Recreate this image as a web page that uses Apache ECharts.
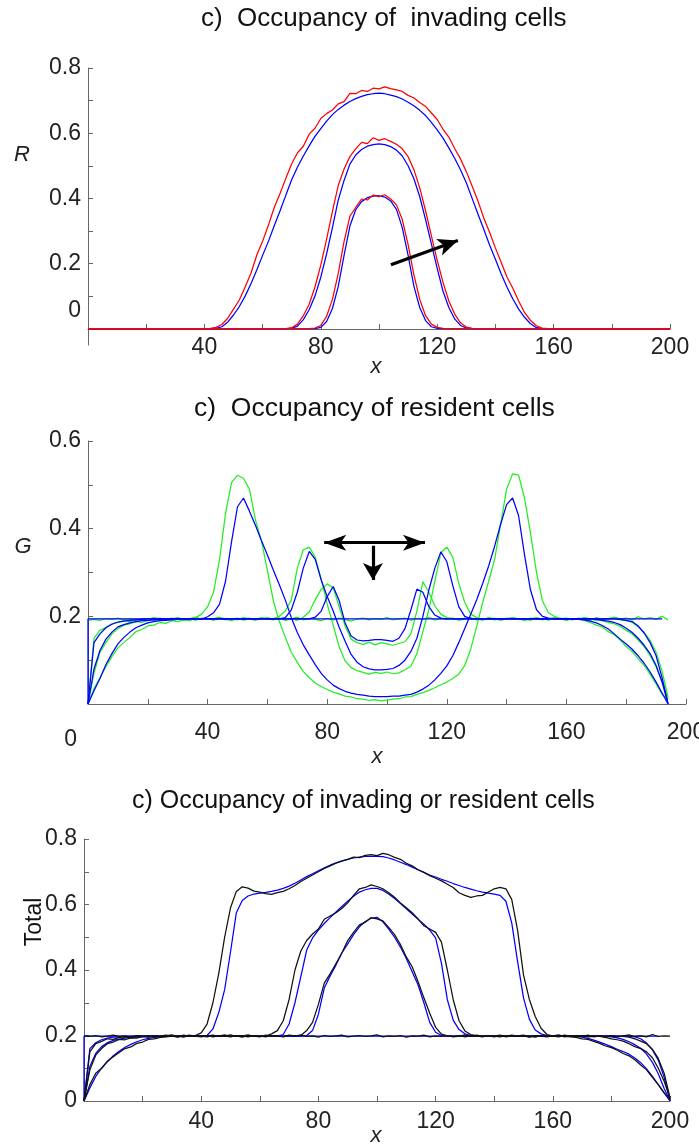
<!DOCTYPE html>
<html>
<head>
<meta charset="utf-8">
<script src="https://cdn.jsdelivr.net/npm/echarts@6/dist/echarts.min.js"></script>
<style>
html,body{margin:0;padding:0;background:#fff;}
#chart{width:699px;height:1145px;}
</style>
</head>
<body>
<div id="chart"></div>
<script>
// ---------- shared sample positions ----------
const X1 = [0,40,42,44,46,48,50,52,54,56,58,60,62,64,66,68,70,72,74,76,78,80,82,84,86,88,90,92,94,96,98,100,
  102,104,106,108,110,112,114,116,118,120,122,124,126,128,130,132,134,136,138,140,142,144,146,148,150,152,154,156,158,160,200];
const X2 = [0,2,4,6,8,10,12,14,16,18,20,22,24,26,28,30,32,34,36,38,40,42,44,46,48,50,52,54,56,58,
  60,62,64,66,68,70,72,74,76,78,80,82,84,86,88,90,92,94,96,98,100,102,104,106,108,110,112,114,116,118,
  120,122,124,126,128,130,132,134,136,138,140,142,144,146,148,150,152,154,156,158,160,162,164,166,168,170,172,174,176,178,
  180,182,184,186,188,190,192,194];
const X3 = [0,2,4,6,8,10,12,14,16,18,20,22,24,26,28,30,32,34,36,38,40,42,44,46,48,50,52,54,56,58,
  60,62,64,66,68,70,72,74,76,78,80,82,84,86,88,90,92,94,96,98,100,102,104,106,108,110,112,114,116,118,
  120,122,124,126,128,130,132,134,136,138,140,142,144,146,148,150,152,154,156,158,160,162,164,166,168,170,172,174,176,178,
  180,182,184,186,188,190,192,194,196,198,200];

// ---------- invading cells R (model = blue, simulation = red) ----------
const R_MODEL_1 = [0,
  0,0,0,0,0,0,0,0,0,0,0,0,0,0,0,0,0,0,0,0,0.004,0.022,0.062,0.130,0.225,0.315,0.365,0.390,0.402,0.407,0.408,
  0.404,0.392,0.366,0.310,0.225,0.130,0.065,0.025,0.006,0.001,0,0,0,0,0,0,0,0,0,0,0,0,0,0,0,0,0,0,0,0,
  0];
const R_MODEL_2 = [0,
  0,0,0,0,0,0,0,0,0,0,0,0,0,0,0,0.001,0.008,0.028,0.058,0.100,0.158,0.230,0.310,0.395,0.455,0.505,0.533,0.550,0.560,0.565,0.567,
  0.565,0.559,0.548,0.530,0.500,0.460,0.405,0.335,0.260,0.185,0.115,0.065,0.030,0.010,0.002,0,0,0,0,0,0,0,0,0,0,0,0,0,0,0,
  0];
const R_MODEL_3 = [0,
  0,0,0.001,0.006,0.020,0.042,0.068,0.100,0.138,0.180,0.225,0.268,0.316,0.362,0.410,0.457,0.496,0.530,0.561,0.590,
  0.614,0.637,0.657,0.673,0.686,0.697,0.706,0.713,0.718,0.721,0.723,
  0.721,0.717,0.712,0.705,0.695,0.684,0.670,0.654,0.633,0.610,0.585,0.555,0.523,0.488,0.448,0.400,0.352,0.305,0.257,0.213,
  0.168,0.127,0.091,0.060,0.035,0.016,0.004,0,0,0,
  0];
const R_SIM_1 = [0,
  0,0,0,0,0,0,0,0,0,0,0,0,0,0,0,0,0,0,0,0.002,0.010,0.038,0.090,0.170,0.268,0.345,0.372,0.398,0.395,0.410,0.405,
  0.411,0.398,0.380,0.335,0.258,0.165,0.090,0.040,0.014,0.004,0.001,0,0,0,0,0,0,0,0,0,0,0,0,0,0,0,0,0,0,0,
  0];
const R_SIM_2 = [0,
  0,0,0,0,0,0,0,0,0,0,0,0,0,0,0,0.003,0.014,0.040,0.075,0.128,0.195,0.275,0.360,0.440,0.490,0.528,0.552,0.572,0.568,0.586,0.578,
  0.583,0.575,0.566,0.552,0.528,0.488,0.432,0.362,0.285,0.210,0.142,0.085,0.045,0.018,0.005,0.001,0,0,0,0,0,0,0,0,0,0,0,0,0,0,
  0];
const R_SIM_3 = [0,
  0,0.001,0.004,0.013,0.032,0.060,0.088,0.128,0.170,0.226,0.268,0.318,0.372,0.415,0.462,0.506,0.540,0.560,0.597,0.615,
  0.645,0.660,0.671,0.690,0.697,0.722,0.721,0.731,0.728,0.738,0.736,
  0.742,0.737,0.733,0.728,0.716,0.708,0.694,0.682,0.662,0.642,0.612,0.588,0.553,0.521,0.482,0.438,0.392,0.340,0.296,0.248,
  0.203,0.158,0.124,0.085,0.050,0.026,0.010,0.002,0,0,
  0];

// ---------- resident cells G (model = blue, simulation = green) ----------
const G_MODEL_0_X = [0,0,192];
const G_MODEL_0 = [0,0.194,0.194];
const G_MODEL_1 = [
  0,0.140,0.160,0.174,0.182,0.187,0.189,0.191,0.192,0.193,
  0.194,0.194,0.194,0.194,0.194,0.194,0.194,0.194,0.194,0.194,
  0.194,0.194,0.194,0.194,0.194,0.194,0.194,0.194,0.194,0.194,
  0.194,0.194,0.194,0.194,0.194,0.194,0.194,0.194,0.198,0.212,
  0.245,0.268,0.236,0.185,0.155,0.146,0.144,0.145,0.147,0.147,
  0.145,0.143,0.150,0.172,0.215,0.262,0.255,0.222,0.203,0.196,
  0.194,0.194,0.194,0.194,0.194,0.194,0.194,0.194,0.194,0.194,
  0.194,0.194,0.194,0.194,0.194,0.194,0.194,0.194,0.194,0.194,
  0.194,0.194,0.194,0.194,0.194,0.194,0.194,0.194,0.194,0.193,
  0.191,0.188,0.178,0.162,0.140,0.110,0.060,0];
const G_MODEL_2 = [
  0,0.080,0.122,0.148,0.164,0.176,0.181,0.185,0.188,0.190,
  0.191,0.192,0.193,0.194,0.194,0.194,0.194,0.194,0.194,0.194,
  0.194,0.194,0.194,0.194,0.194,0.194,0.194,0.194,0.194,0.194,
  0.194,0.194,0.194,0.197,0.215,0.255,0.310,0.348,0.330,0.283,
  0.245,0.212,0.175,0.143,0.113,0.095,0.085,0.080,0.078,0.078,
  0.079,0.081,0.088,0.100,0.120,0.150,0.200,0.260,0.310,0.347,
  0.325,0.270,0.222,0.200,0.195,0.194,0.194,0.194,0.194,0.194,
  0.194,0.194,0.194,0.194,0.194,0.194,0.194,0.194,0.194,0.194,
  0.194,0.194,0.194,0.194,0.194,0.193,0.191,0.189,0.186,0.181,
  0.173,0.163,0.150,0.134,0.115,0.088,0.050,0];
const G_MODEL_3 = [
  0,0.030,0.058,0.090,0.115,0.137,0.152,0.164,0.174,0.180,
  0.185,0.188,0.190,0.191,0.192,0.193,0.194,0.194,0.194,0.194,
  0.199,0.208,0.228,0.280,0.370,0.450,0.470,0.440,0.408,0.373,
  0.340,0.305,0.272,0.237,0.197,0.163,0.135,0.112,0.090,0.070,
  0.055,0.043,0.035,0.029,0.025,0.022,0.020,0.018,0.017,0.017,
  0.017,0.018,0.018,0.020,0.022,0.027,0.034,0.043,0.055,0.070,
  0.087,0.110,0.140,0.172,0.205,0.238,0.275,0.315,0.360,0.410,
  0.455,0.470,0.430,0.340,0.260,0.215,0.200,0.196,0.195,0.194,
  0.194,0.193,0.193,0.192,0.189,0.185,0.179,0.171,0.160,0.148,
  0.137,0.125,0.110,0.093,0.073,0.050,0.025,0];
const G_SIM_0 = [
  0.190,0.193,0.191,0.195,0.193,0.196,0.192,0.194,0.191,0.195,
  0.193,0.197,0.194,0.192,0.196,0.193,0.191,0.195,0.198,0.193,
  0.195,0.192,0.197,0.194,0.190,0.195,0.193,0.196,0.192,0.194,
  0.197,0.193,0.195,0.191,0.194,0.198,0.192,0.195,0.193,0.190,
  0.195,0.192,0.196,0.193,0.189,0.194,0.196,0.192,0.195,0.193,
  0.197,0.192,0.194,0.196,0.191,0.195,0.193,0.198,0.192,0.195,
  0.193,0.196,0.191,0.194,0.197,0.192,0.195,0.193,0.196,0.191,
  0.194,0.197,0.193,0.195,0.191,0.196,0.194,0.192,0.197,0.193,
  0.195,0.192,0.196,0.194,0.191,0.197,0.193,0.195,0.198,0.194,
  0.196,0.192,0.199,0.194,0.197,0.193,0.200,0.192];
const G_SIM_1 = [
  0,0.150,0.168,0.175,0.183,0.186,0.190,0.188,0.193,0.191,
  0.195,0.193,0.196,0.192,0.194,0.197,0.193,0.195,0.191,0.196,
  0.193,0.195,0.198,0.192,0.194,0.196,0.191,0.195,0.193,0.197,
  0.194,0.192,0.196,0.193,0.195,0.191,0.198,0.210,0.238,0.262,
  0.274,0.265,0.222,0.178,0.148,0.140,0.136,0.141,0.135,0.140,
  0.137,0.134,0.138,0.142,0.160,0.212,0.279,0.255,0.224,0.205,
  0.197,0.195,0.192,0.196,0.193,0.195,0.191,0.197,0.194,0.192,
  0.196,0.193,0.195,0.191,0.194,0.197,0.192,0.195,0.193,0.196,
  0.192,0.195,0.193,0.197,0.194,0.191,0.195,0.193,0.196,0.192,
  0.190,0.186,0.176,0.164,0.145,0.118,0.075,0.015];
const G_SIM_2 = [
  0,0.070,0.118,0.140,0.160,0.172,0.180,0.183,0.188,0.186,
  0.190,0.192,0.190,0.195,0.193,0.196,0.192,0.194,0.197,0.193,
  0.195,0.191,0.196,0.193,0.195,0.192,0.197,0.194,0.191,0.196,
  0.193,0.195,0.200,0.212,0.237,0.310,0.352,0.358,0.335,0.285,
  0.228,0.180,0.130,0.098,0.083,0.076,0.072,0.068,0.072,0.070,
  0.073,0.069,0.071,0.078,0.086,0.115,0.165,0.215,0.280,0.345,
  0.358,0.335,0.275,0.232,0.205,0.197,0.193,0.196,0.192,0.195,
  0.193,0.197,0.194,0.191,0.196,0.193,0.195,0.192,0.196,0.194,
  0.191,0.195,0.193,0.196,0.194,0.192,0.190,0.186,0.183,0.177,
  0.168,0.160,0.146,0.131,0.110,0.085,0.050,0.012];
const G_SIM_3 = [
  0,0.035,0.060,0.085,0.108,0.128,0.140,0.152,0.165,0.170,
  0.178,0.180,0.186,0.184,0.190,0.188,0.192,0.190,0.197,0.205,
  0.222,0.255,0.330,0.435,0.505,0.522,0.515,0.490,0.420,0.372,
  0.305,0.235,0.188,0.152,0.118,0.095,0.074,0.060,0.048,0.040,
  0.033,0.027,0.023,0.018,0.016,0.012,0.011,0.008,0.010,0.007,
  0.009,0.011,0.012,0.016,0.017,0.022,0.026,0.031,0.037,0.044,
  0.050,0.058,0.068,0.088,0.125,0.177,0.232,0.280,0.330,0.410,
  0.490,0.525,0.522,0.470,0.390,0.300,0.235,0.208,0.200,0.195,
  0.196,0.193,0.194,0.190,0.186,0.180,0.176,0.165,0.158,0.146,
  0.131,0.120,0.103,0.088,0.068,0.046,0.022,0.010];

// ---------- total occupancy (model = blue, simulation = black) ----------
const T_MODEL_0_X = [0,0,196];
const T_MODEL_0 = [0,0.198,0.198];
const T_MODEL_1 = [
  0,0.160,0.178,0.187,0.192,0.195,0.196,0.197,0.198,0.198,
  0.198,0.198,0.198,0.198,0.198,0.198,0.198,0.198,0.198,0.198,
  0.198,0.198,0.198,0.198,0.198,0.198,0.198,0.198,0.198,0.198,
  0.198,0.198,0.198,0.198,0.198,0.198,0.198,0.198,0.200,0.215,
  0.265,0.345,0.382,0.415,0.452,0.480,0.508,0.532,0.548,0.558,
  0.561,0.547,0.525,0.500,0.470,0.435,0.395,0.355,0.300,0.240,
  0.210,0.200,0.198,0.198,0.198,0.198,0.198,0.198,0.198,0.198,
  0.198,0.198,0.198,0.198,0.198,0.198,0.198,0.198,0.198,0.198,
  0.198,0.198,0.198,0.198,0.198,0.198,0.198,0.198,0.198,0.198,
  0.198,0.198,0.198,0.198,0.196,0.190,0.177,0.156,0.125,0.072,
  0];
const T_MODEL_2 = [
  0,0.105,0.145,0.166,0.178,0.185,0.189,0.192,0.194,0.195,
  0.196,0.197,0.198,0.198,0.198,0.198,0.198,0.198,0.198,0.198,
  0.198,0.198,0.198,0.198,0.198,0.198,0.198,0.198,0.198,0.198,
  0.198,0.198,0.198,0.198,0.203,0.235,0.300,0.380,0.461,0.498,
  0.522,0.542,0.560,0.577,0.594,0.610,0.625,0.638,0.645,0.649,
  0.649,0.643,0.632,0.618,0.603,0.587,0.571,0.555,0.540,0.522,
  0.498,0.420,0.310,0.247,0.218,0.205,0.200,0.198,0.198,0.198,
  0.198,0.198,0.198,0.198,0.198,0.198,0.198,0.198,0.198,0.198,
  0.198,0.198,0.198,0.198,0.198,0.198,0.198,0.198,0.198,0.198,
  0.196,0.193,0.188,0.181,0.172,0.161,0.143,0.118,0.083,0.038,
  0];
const T_MODEL_3 = [
  0,0.040,0.075,0.100,0.120,0.138,0.152,0.164,0.173,0.181,
  0.187,0.191,0.194,0.196,0.197,0.198,0.198,0.198,0.198,0.198,
  0.198,0.200,0.220,0.270,0.340,0.455,0.575,0.612,0.626,0.632,
  0.635,0.637,0.640,0.644,0.649,0.656,0.665,0.675,0.685,0.694,
  0.703,0.712,0.720,0.727,0.733,0.738,0.742,0.745,0.747,0.747,
  0.747,0.746,0.742,0.736,0.729,0.722,0.714,0.706,0.698,0.690,
  0.684,0.677,0.671,0.664,0.658,0.652,0.647,0.642,0.638,0.635,
  0.632,0.628,0.610,0.543,0.425,0.315,0.250,0.217,0.205,0.200,
  0.198,0.198,0.198,0.198,0.197,0.195,0.191,0.186,0.180,0.173,
  0.166,0.158,0.151,0.143,0.131,0.117,0.098,0.075,0.050,0.025,
  0];
const T_SIM_0 = [
  0.199,0.197,0.200,0.196,0.198,0.201,0.197,0.199,0.195,0.200,
  0.198,0.196,0.200,0.197,0.199,0.202,0.196,0.198,0.201,0.197,
  0.199,0.196,0.200,0.198,0.202,0.197,0.199,0.195,0.200,0.198,
  0.196,0.201,0.197,0.199,0.196,0.200,0.198,0.202,0.197,0.199,
  0.195,0.200,0.197,0.199,0.201,0.196,0.198,0.200,0.197,0.199,
  0.202,0.196,0.199,0.197,0.200,0.195,0.199,0.198,0.201,0.196,
  0.199,0.197,0.200,0.196,0.198,0.202,0.197,0.199,0.196,0.200,
  0.198,0.201,0.196,0.199,0.197,0.200,0.198,0.195,0.200,0.197,
  0.199,0.202,0.196,0.198,0.200,0.197,0.201,0.196,0.199,0.197,
  0.200,0.196,0.199,0.202,0.197,0.199,0.196,0.203,0.197,0.199,
  0.198];
const T_SIM_1 = [
  0,0.150,0.175,0.182,0.190,0.188,0.194,0.196,0.193,0.199,
  0.197,0.200,0.196,0.198,0.201,0.197,0.199,0.195,0.200,0.198,
  0.196,0.199,0.201,0.197,0.199,0.196,0.200,0.198,0.202,0.197,
  0.199,0.196,0.200,0.198,0.197,0.201,0.199,0.200,0.215,0.240,
  0.295,0.360,0.388,0.420,0.452,0.490,0.515,0.538,0.546,0.560,
  0.556,0.550,0.530,0.508,0.478,0.440,0.410,0.365,0.315,0.268,
  0.225,0.204,0.199,0.197,0.200,0.196,0.199,0.201,0.197,0.199,
  0.196,0.200,0.198,0.201,0.197,0.199,0.195,0.200,0.198,0.196,
  0.199,0.197,0.201,0.198,0.196,0.200,0.197,0.199,0.198,0.196,
  0.199,0.197,0.197,0.195,0.190,0.183,0.175,0.158,0.130,0.085,
  0.010];
const T_SIM_2 = [
  0,0.095,0.140,0.160,0.175,0.180,0.188,0.187,0.193,0.192,
  0.197,0.195,0.199,0.196,0.200,0.198,0.196,0.201,0.197,0.199,
  0.197,0.200,0.196,0.199,0.198,0.202,0.197,0.199,0.196,0.200,
  0.197,0.198,0.205,0.215,0.245,0.310,0.400,0.458,0.490,0.510,
  0.525,0.555,0.565,0.575,0.588,0.605,0.628,0.648,0.652,0.660,
  0.655,0.648,0.636,0.622,0.605,0.590,0.575,0.556,0.535,0.525,
  0.515,0.485,0.400,0.310,0.245,0.214,0.203,0.199,0.197,0.200,
  0.198,0.196,0.200,0.197,0.199,0.201,0.196,0.198,0.200,0.197,
  0.199,0.196,0.200,0.198,0.197,0.199,0.196,0.197,0.197,0.194,
  0.190,0.187,0.183,0.175,0.166,0.160,0.150,0.132,0.100,0.060,
  0.010];
const T_SIM_3 = [
  0,0.050,0.085,0.100,0.122,0.135,0.148,0.160,0.165,0.176,
  0.180,0.188,0.190,0.194,0.196,0.198,0.196,0.200,0.197,0.200,
  0.208,0.235,0.300,0.390,0.500,0.590,0.640,0.654,0.650,0.641,
  0.638,0.633,0.631,0.636,0.640,0.648,0.658,0.670,0.680,0.690,
  0.700,0.710,0.718,0.726,0.732,0.738,0.745,0.743,0.750,0.752,
  0.749,0.756,0.752,0.744,0.738,0.726,0.718,0.706,0.698,0.688,
  0.680,0.672,0.662,0.652,0.636,0.628,0.622,0.626,0.628,0.638,
  0.648,0.652,0.648,0.615,0.520,0.385,0.310,0.258,0.222,0.203,
  0.199,0.197,0.198,0.196,0.194,0.190,0.188,0.182,0.176,0.168,
  0.163,0.155,0.145,0.138,0.126,0.110,0.095,0.072,0.050,0.025,
  0.005];

// ---------- annotation arrows (data coordinates) ----------
const ARROW_R = [[104.1, 0.196], [127.1, 0.271]];
const ARROW_G_SPREAD = [[79.0, 0.368], [112.7, 0.368]];
const ARROW_G_DOWN = [[95.3, 0.361], [95.3, 0.283]];

// ---------- axis ticks and labels ----------
const X_TICK_STEP = 20;
const X_LABELS = [40, 80, 120, 160, 200];
const R_TICKS = [0, 0.1, 0.2, 0.3, 0.4, 0.5, 0.6, 0.7, 0.8];
const R_LABELS = [0, 0.2, 0.4, 0.6, 0.8];
const G_LABELS = [0, 0.2, 0.4, 0.6];
const T_LABELS = [0, 0.2, 0.4, 0.6, 0.8];

const TITLES = [
  'c)  Occupancy of  invading cells',
  'c)  Occupancy of resident cells',
  'c) Occupancy of invading or resident cells'
];

const FONT = "'Liberation Sans', Arial, Helvetica, sans-serif";
const AXIS_COLOR = '#666666';
const TEXT_COLOR = '#222222';
const BLUE = '#0000ff', RED = '#ff0000', GREEN = '#22ee22', BLACK = '#111111';
const TICK_FONT = 23;

const chart = echarts.init(document.getElementById('chart'), null, { renderer: 'canvas' });

function pairs(xs, ys) { return xs.map((x, i) => [x, ys[i]]); }

function curve(gridIndex, xs, ys, color, z) {
  return {
    type: 'line', xAxisIndex: gridIndex, yAxisIndex: gridIndex,
    data: pairs(xs, ys), showSymbol: false, symbol: 'none',
    lineStyle: { color: color, width: 1.25 }, z: z, silent: true, animation: false
  };
}

function arrowSeries(gridIndex, pts, heads, size) {
  return {
    type: 'line', xAxisIndex: gridIndex, yAxisIndex: gridIndex, data: [], silent: true, animation: false,
    markLine: {
      silent: true, animation: false,
      symbol: heads, symbolSize: size,
      label: { show: false },
      lineStyle: { color: '#000', width: 3.2, type: 'solid' },
      emphasis: { disabled: true },
      data: [[{ coord: pts[0] }, { coord: pts[1] }]]
    },
    z: 20
  };
}

function xAxisFor(gridIndex, labelMargin, offset) {
  return {
    type: 'value', gridIndex: gridIndex, min: 0, max: 200, interval: X_TICK_STEP,
    offset: offset,
    axisLine: { show: true, onZero: false, lineStyle: { color: AXIS_COLOR, width: 1 } },
    axisTick: { show: true, inside: true, length: 5, lineStyle: { color: AXIS_COLOR } },
    splitLine: { show: false },
    axisLabel: {
      show: true, margin: labelMargin, color: TEXT_COLOR, fontSize: TICK_FONT, fontFamily: FONT,
      formatter: v => (X_LABELS.indexOf(v) >= 0 ? String(v) : '')
    }
  };
}

function yAxisFor(gridIndex, opts) {
  return Object.assign({
    type: 'value', gridIndex: gridIndex,
    axisLine: { show: true, onZero: false, lineStyle: { color: AXIS_COLOR, width: 1 } },
    axisTick: { show: true, inside: true, length: 5, lineStyle: { color: AXIS_COLOR } },
    splitLine: { show: false }
  }, opts);
}

function yLabel(labels, zeroStyle) {
  return {
    show: true, margin: 7, color: TEXT_COLOR, fontSize: TICK_FONT, fontFamily: FONT,
    formatter: v => {
      const hit = labels.some(l => Math.abs(l - v) < 1e-6);
      if (!hit) return '';
      if (Math.abs(v) < 1e-6) return zeroStyle ? '{z|0}' : '0';
      return v.toFixed(1);
    },
    rich: zeroStyle ? { z: Object.assign({ fontSize: TICK_FONT, fontFamily: FONT, color: TEXT_COLOR }, zeroStyle) } : undefined
  };
}

const titleStyle = size => ({ fontSize: size, fontWeight: 'normal', color: '#111', fontFamily: FONT });

const option = {
  backgroundColor: '#ffffff',
  animation: false,
  title: [
    { text: TITLES[0], left: 201, top: 6, padding: 0, textStyle: titleStyle(26) },
    { text: TITLES[1], left: 194, top: 395, padding: 0, textStyle: titleStyle(26.5) },
    { text: TITLES[2], left: 132, top: 789, padding: 0, textStyle: titleStyle(25) }
  ],
  grid: [
    { left: 88, top: 68, width: 582, height: 277, containLabel: false, outerBoundsMode: 'none' },
    { left: 88, top: 441, width: 598, height: 263, containLabel: false, outerBoundsMode: 'none' },
    { left: 84, top: 839, width: 586, height: 262, containLabel: false, outerBoundsMode: 'none' }
  ],
  // the first panel's x axis sits on R = 0, 16 px above the bottom of its value range
  xAxis: [xAxisFor(0, 7, -16), xAxisFor(1, 17, 0), xAxisFor(2, 9, 0)],
  yAxis: [
    yAxisFor(0, {
      min: -0.05, max: 0.8,
      axisTick: { show: true, inside: true, length: 5, lineStyle: { color: AXIS_COLOR }, customValues: R_TICKS },
      axisLabel: Object.assign(yLabel(R_LABELS, { padding: [0, 0, 36, 0] }), { customValues: R_LABELS })
    }),
    yAxisFor(1, { min: 0, max: 0.6, interval: 0.1, axisLabel: yLabel(G_LABELS, { padding: [72, 4, 0, 0] }) }),
    yAxisFor(2, { min: 0, max: 0.8, interval: 0.1, axisLabel: yLabel(T_LABELS, null) })
  ],
  series: [
    // invading cells
    curve(0, X1, R_MODEL_1, BLUE, 2), curve(0, X1, R_MODEL_2, BLUE, 2), curve(0, X1, R_MODEL_3, BLUE, 2),
    curve(0, X1, R_SIM_1, RED, 3), curve(0, X1, R_SIM_2, RED, 3), curve(0, X1, R_SIM_3, RED, 3),
    arrowSeries(0, ARROW_R, ['none', 'arrow'], [13, 20]),
    // resident cells
    curve(1, X2, G_SIM_0, GREEN, 2), curve(1, X2, G_SIM_1, GREEN, 2), curve(1, X2, G_SIM_2, GREEN, 2), curve(1, X2, G_SIM_3, GREEN, 2),
    curve(1, G_MODEL_0_X, G_MODEL_0, BLUE, 3), curve(1, X2, G_MODEL_1, BLUE, 3), curve(1, X2, G_MODEL_2, BLUE, 3), curve(1, X2, G_MODEL_3, BLUE, 3),
    arrowSeries(1, ARROW_G_SPREAD, ['arrow', 'arrow'], [12, 22]),
    arrowSeries(1, ARROW_G_DOWN, ['none', 'arrow'], [15, 17]),
    // total occupancy
    curve(2, T_MODEL_0_X, T_MODEL_0, BLUE, 2), curve(2, X3, T_MODEL_1, BLUE, 2), curve(2, X3, T_MODEL_2, BLUE, 2), curve(2, X3, T_MODEL_3, BLUE, 2),
    curve(2, X3, T_SIM_0, BLACK, 3), curve(2, X3, T_SIM_1, BLACK, 3), curve(2, X3, T_SIM_2, BLACK, 3), curve(2, X3, T_SIM_3, BLACK, 3)
  ],
  graphic: [
    { type: 'text', x: 22, y: 155, style: { text: 'R', font: 'italic 22px ' + FONT, fill: TEXT_COLOR, align: 'center', verticalAlign: 'middle' } },
    { type: 'text', x: 23, y: 547, style: { text: 'G', font: 'italic 22px ' + FONT, fill: TEXT_COLOR, align: 'center', verticalAlign: 'middle' } },
    { type: 'text', x: 35, y: 922, rotation: Math.PI / 2, style: { text: 'Total', font: '23px ' + FONT, fill: '#111', align: 'center', verticalAlign: 'middle' } },
    { type: 'text', x: 376, y: 367, style: { text: 'x', font: 'italic 22px ' + FONT, fill: TEXT_COLOR, align: 'center', verticalAlign: 'middle' } },
    { type: 'text', x: 377, y: 757, style: { text: 'x', font: 'italic 22px ' + FONT, fill: TEXT_COLOR, align: 'center', verticalAlign: 'middle' } },
    { type: 'text', x: 376, y: 1136, style: { text: 'x', font: 'italic 22px ' + FONT, fill: TEXT_COLOR, align: 'center', verticalAlign: 'middle' } }
  ]
};

chart.setOption(option);
</script>
</body>
</html>
